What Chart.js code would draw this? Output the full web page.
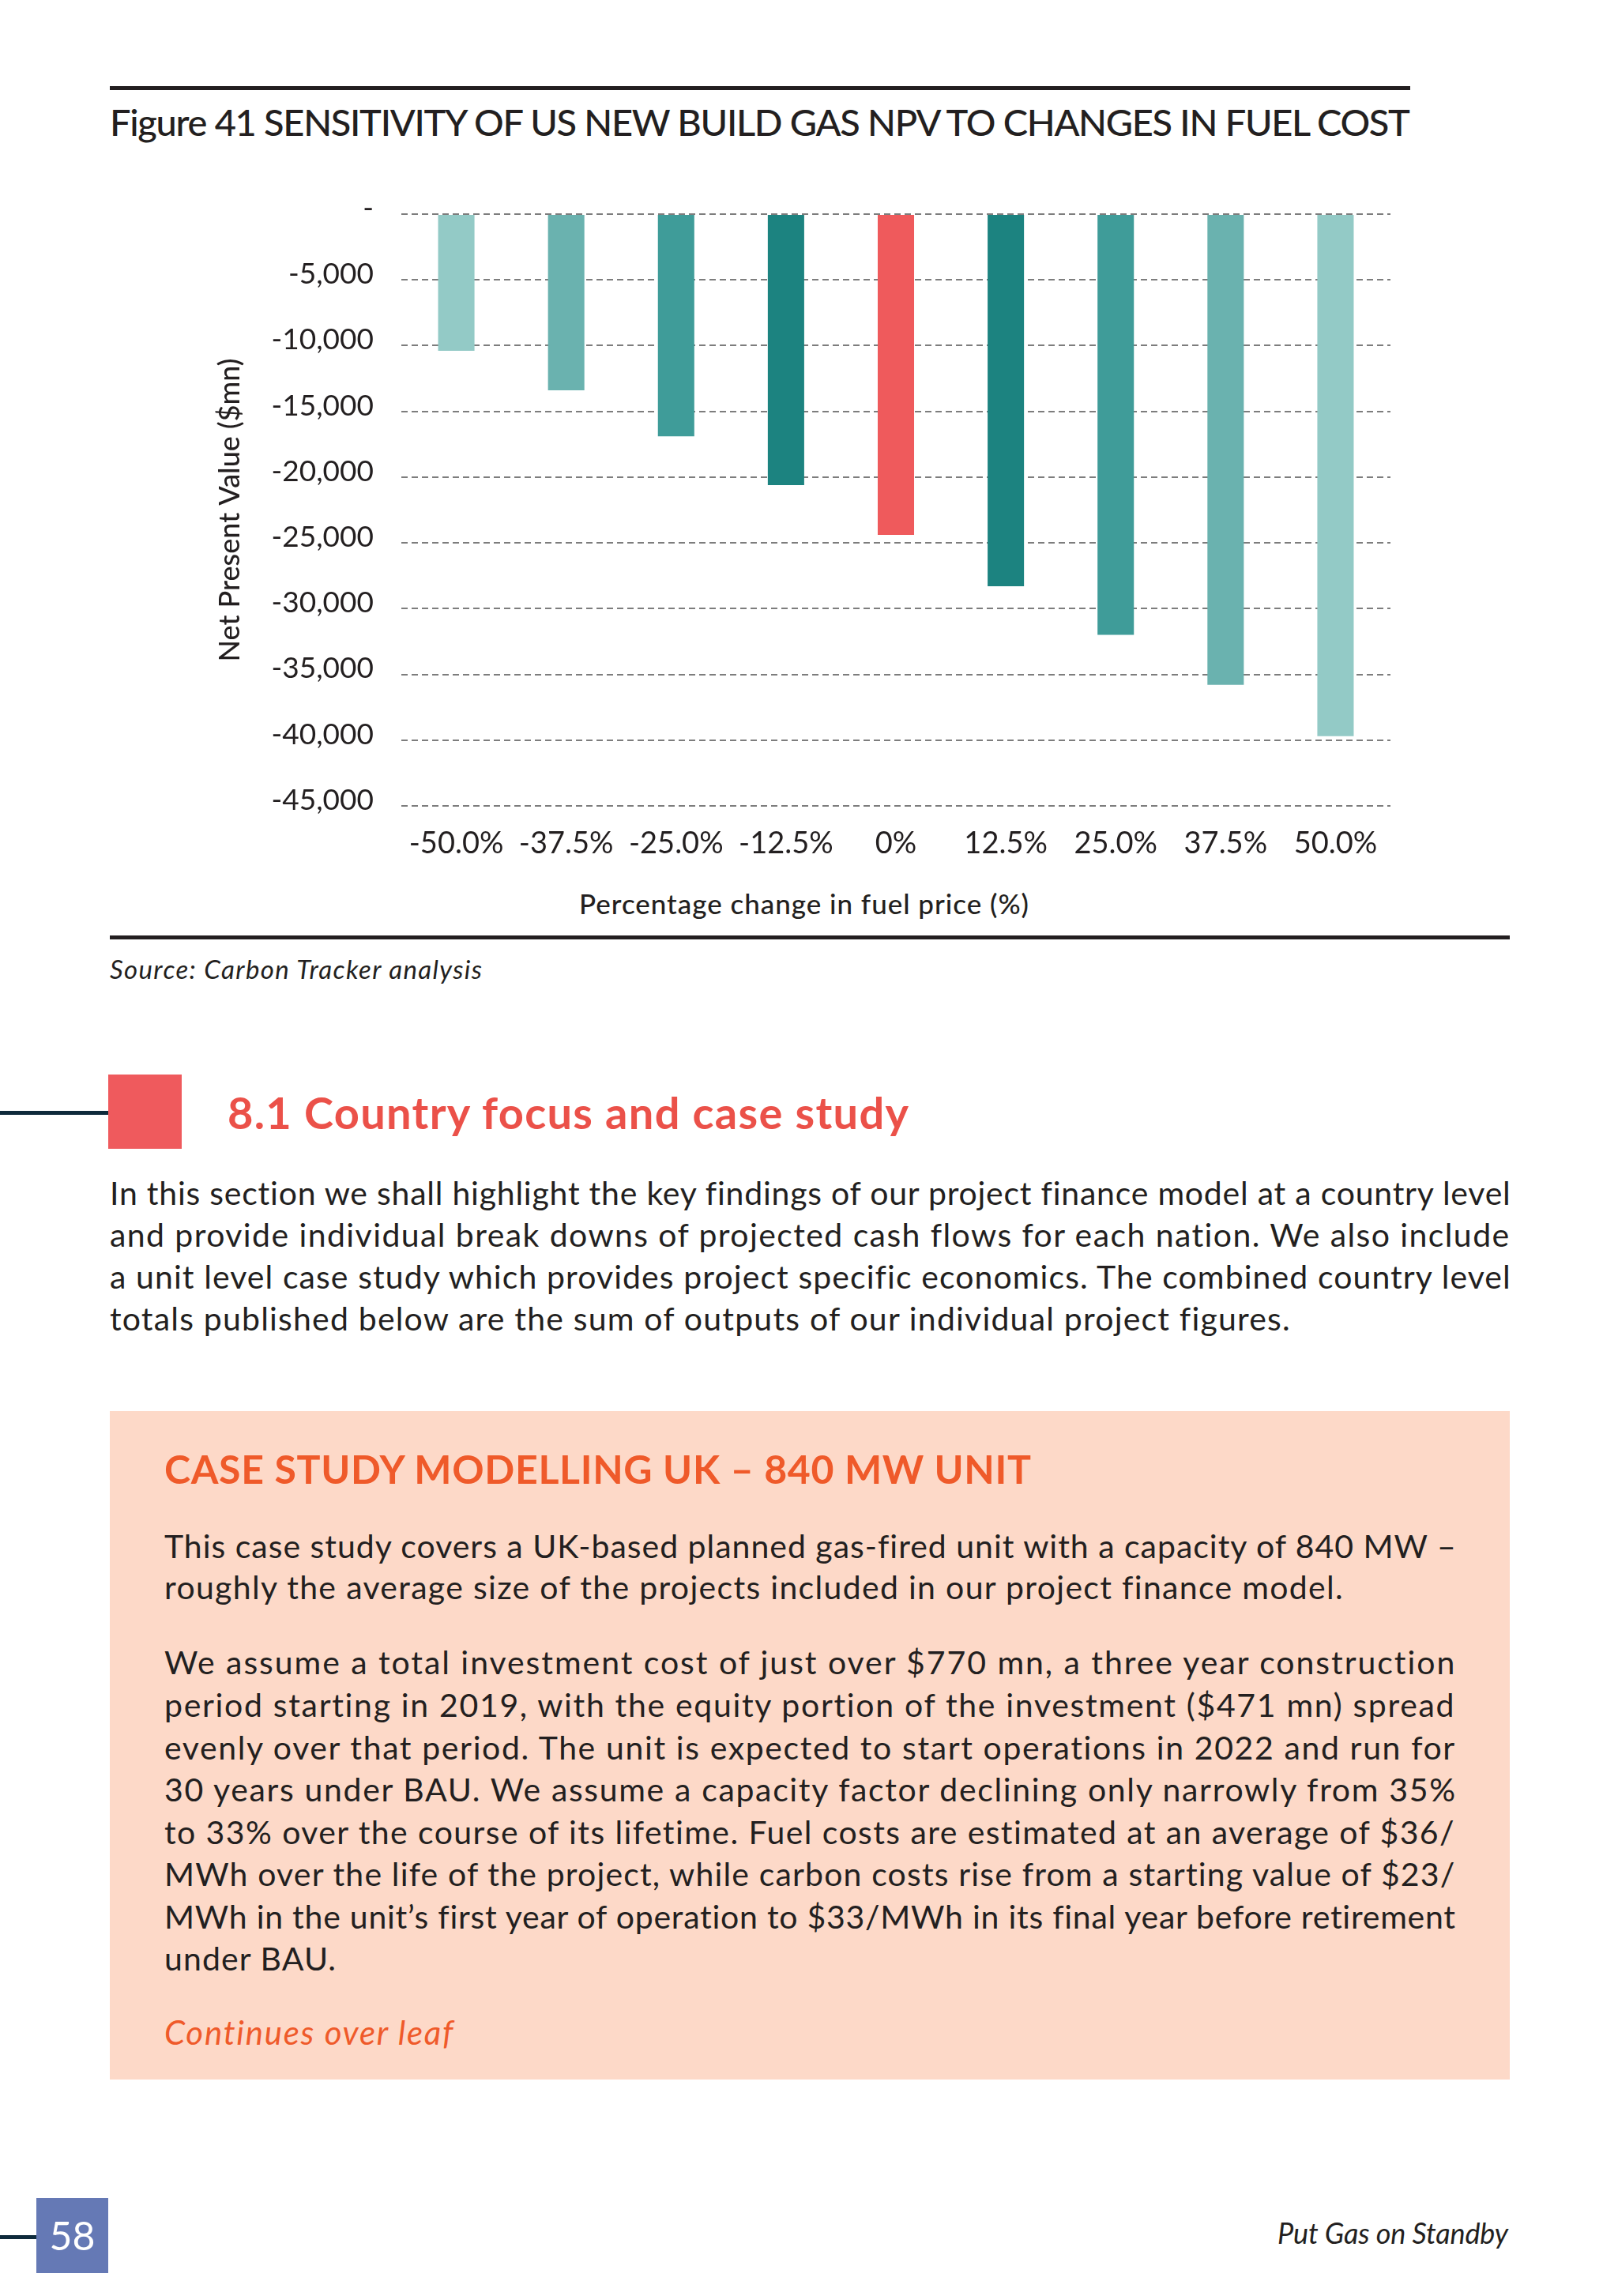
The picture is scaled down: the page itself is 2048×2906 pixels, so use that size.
<!DOCTYPE html>
<html>
<head>
<meta charset="utf-8">
<script src="https://cdn.jsdelivr.net/npm/chart.js@4.4.1/dist/chart.umd.min.js"></script>
<style>
  html, body { margin: 0; padding: 0; background: #ffffff; }
  body { width: 2048px; height: 2906px; position: relative; overflow: hidden; font-family: Lato, "Open Sans", sans-serif; color: #231F20; }
  .abs { position: absolute; }
  .ln { position: absolute; white-space: nowrap; display: inline-block; }
  #chartWrap { position: absolute; left: 250px; top: 230px; width: 1530px; height: 870px; }
</style>
</head>
<body>
<div class="abs" style="left:139px;top:109px;width:1646px;height:5px;background:#231F20"></div>
<div class="abs" style="left:139px;top:1184px;width:1772px;height:5px;background:#231F20"></div>
<div class="abs" style="left:0;top:1406px;width:137px;height:5px;background:#0E2A3B"></div>
<div class="abs" style="left:137px;top:1360px;width:93px;height:94px;background:#EF5A5D"></div>
<div class="abs" style="left:139px;top:1786px;width:1772px;height:846px;background:#FDD9C8"></div>
<div class="abs" style="left:0;top:2829px;width:46px;height:5px;background:#0E2A3B"></div>
<div class="abs" style="left:46px;top:2782px;width:91px;height:95px;background:#6579B5;color:#fff;font-size:50px;line-height:95px;text-align:center">58</div>

<div id="chartWrap"><canvas id="chart" width="1530" height="870" style="width:1530px;height:870px"></canvas></div>
<div id="texts"></div>

<script>
// ---- chart data ----
const categories = ['-50.0%', '-37.5%', '-25.0%', '-12.5%', '0%', '12.5%', '25.0%', '37.5%', '50.0%'];
const npvValues = [-10400, -13400, -16900, -20600, -24400, -28300, -32000, -35800, -39700];
const yMin = -45000;
const yMax = 0;
const yStep = 5000;
const yAxisTitle = 'Net Present Value ($mn)';
const xAxisTitle = 'Percentage change in fuel price (%)';

const barColors = ['#93CAC6', '#6AB2AF', '#3F9C99', '#1C8380', '#EF5A5C', '#1C8380', '#3F9C99', '#6AB2AF', '#93CAC6'];

const fmt = v => v === 0 ? '-' : v.toLocaleString('en-US');

new Chart(document.getElementById('chart'), {
  type: 'bar',
  data: {
    labels: categories,
    datasets: [{
      data: npvValues,
      backgroundColor: barColors,
      borderWidth: 0,
      barPercentage: 0.331,
      categoryPercentage: 1.0
    }]
  },
  options: {
    responsive: false,
    animation: false,
    devicePixelRatio: 1,
    layout: { padding: { left: 0, right: 20, top: 41, bottom: 0 } },
    plugins: { legend: { display: false }, tooltip: { enabled: false } },
    scales: {
      x: {
        grid: { display: false, drawTicks: false },
        border: { display: false },
        ticks: { color: '#231F20', font: { family: 'Lato', size: 38 }, padding: 25, maxRotation: 0, autoSkip: false },
        afterFit: s => { s.height = 80; }
      },
      y: {
        min: yMin, max: yMax,
        grid: { color: '#7D7D7D', lineWidth: 2, drawTicks: true, tickLength: 35, tickColor: 'rgba(0,0,0,0)' },
        border: { display: false, dash: [8, 5] },
        ticks: { stepSize: yStep, color: '#231F20', font: { family: 'Lato', size: 37 }, padding: 0, labelOffset: -7, callback: v => fmt(v) },
        title: { display: true, text: yAxisTitle, color: '#231F20', font: { family: 'Lato', size: 36, weight: 500 }, padding: { top: 20, bottom: 0 } },
        afterFit: s => { s.width = 258; }
      }
    }
  }
});

// ---- page text ----
const T = [];
function add(text, x, cy, w, fs, opts) {
  T.push(Object.assign({ text, x, cy, w, fs }, opts || {}));
}
add('Figure 41 SENSITIVITY OF US NEW BUILD GAS NPV TO CHANGES IN FUEL COST', 139, 156, 1646, 47, { k: 0.53, weight: 500 });
add(xAxisTitle, 733, 1148, 569, 35, { weight: 500 });
add('Source: Carbon Tracker analysis', 139, 1230, 471, 33, { italic: true });
add('8.1 Country focus and case study', 288, 1410, 862, 56, { k: 0.53, weight: 700, color: '#EB5149' });
const p1 = [
  'In this section we shall highlight the key findings of our project finance model at a country level',
  'and provide individual break downs of projected cash flows for each nation. We also include',
  'a unit level case study which provides project specific economics. The combined country level',
  'totals published below are the sum of outputs of our individual project figures.'
];
const p1y = [1514, 1567, 1620, 1673];
p1.forEach((t, i) => add(t, 139, p1y[i], i < 3 ? 1772 : 1493, 41));
add('CASE STUDY MODELLING UK \u2013 840 MW UNIT', 208, 1860, 1097, 50, { k: 0.53, weight: 700, color: '#EF5A2A' });
add('This case study covers a UK-based planned gas-fired unit with a capacity of 840 MW \u2013', 208, 1961, 1634, 41);
add('roughly the average size of the projects included in our project finance model.', 208, 2013, 1491, 41);
const p2 = [
  'We assume a total investment cost of just over $770 mn, a three year construction',
  'period starting in 2019, with the equity portion of the investment ($471 mn) spread',
  'evenly over that period. The unit is expected to start operations in 2022 and run for',
  '30 years under BAU. We assume a capacity factor declining only narrowly from 35%',
  'to 33% over the course of its lifetime. Fuel costs are estimated at an average of $36/',
  'MWh over the life of the project, while carbon costs rise from a starting value of $23/',
  'MWh in the unit\u2019s first year of operation to $33/MWh in its final year before retirement',
  'under BAU.'
];
const p2y = [2108, 2162, 2216, 2269, 2323, 2376, 2430, 2483];
p2.forEach((t, i) => add(t, 208, p2y[i], i < 7 ? 1634 : 217, 41));
add('Continues over leaf', 208, 2577, 365, 42, { italic: true, color: '#EF5A2A' });
add('Put Gas on Standby', 1617, 2830, 292, 36, { italic: true });

const host = document.getElementById('texts');
const els = T.map(o => {
  const d = document.createElement('div');
  d.className = 'ln';
  d.textContent = o.text;
  const k = o.k || 0.62;
  d.style.left = o.x + 'px';
  d.style.top = (o.cy - k * o.fs) + 'px';
  d.style.fontSize = o.fs + 'px';
  d.style.lineHeight = o.fs + 'px';
  if (o.weight) d.style.fontWeight = o.weight;
  if (o.italic) d.style.fontStyle = 'italic';
  if (o.color) d.style.color = o.color;
  host.appendChild(d);
  return [d, o];
});
function fit() {
  els.forEach(([d, o]) => {
    d.style.letterSpacing = '0px';
    const w = d.getBoundingClientRect().width;
    const n = Math.max(o.text.length - 1, 1);
    d.style.letterSpacing = ((o.w - w) / n) + 'px';
  });
}
fit();
if (document.fonts && document.fonts.ready) document.fonts.ready.then(fit);
</script>
</body>
</html>
